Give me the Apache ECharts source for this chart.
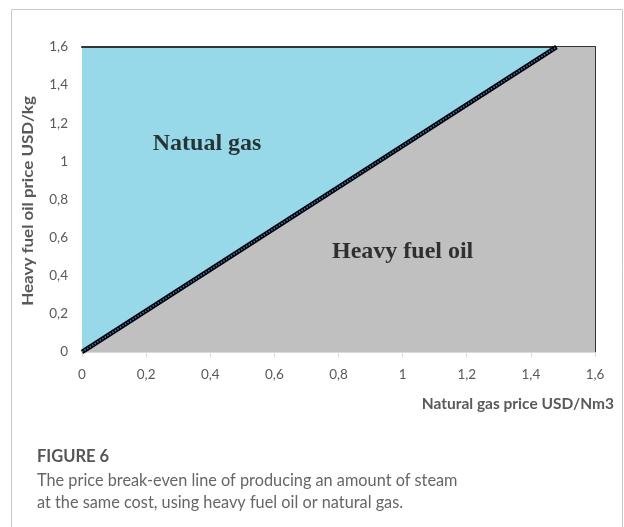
<!DOCTYPE html>
<html>
<head>
<meta charset="utf-8">
<script src="https://cdn.jsdelivr.net/npm/echarts@6/dist/echarts.min.js"></script>
<style>
html,body{margin:0;padding:0;background:#fff;}
#chart{width:624px;height:527px;}
</style>
</head>
<body>
<div id="chart"></div>
<script>
// Data
const gasPrice = [0, 1.48];          // natural gas price USD/Nm3
const oilPrice = [0, 1.6];           // heavy fuel oil price USD/kg (break-even)
const regionX = [0, 1.48, 1.6];      // gray region boundary (heavy fuel oil cheaper)
const regionY = [0, 1.6, 1.6];
const xTicks = ['0','0,2','0,4','0,6','0,8','1','1,2','1,4','1,6'];
const yTicks = ['0','0,2','0,4','0,6','0,8','1','1,2','1,4','1,6'];
const regionLabels = [
  {name: 'Natual gas', x: 0.39, y: 1.09},
  {name: 'Heavy fuel oil', x: 1.0, y: 0.525}
];
const xTitle = 'Natural gas price USD/Nm3';
const yTitle = 'Heavy fuel oil price USD/kg';
const figTitle = 'FIGURE 6';
const captionLines = [
  'The price break-even line of producing an amount of steam',
  'at the same cost, using heavy fuel oil or natural gas.'
];

const chart = echarts.init(document.getElementById('chart'), null, {renderer: 'canvas'});
const tickFmt = arr => v => arr[Math.round(v / 0.2)] ?? '';

const option = {
  animation: false,
  backgroundColor: '#fff',
  grid: {
    left: 82, right: 29, top: 47, bottom: 175,
    show: true, backgroundColor: '#97d9e8', borderWidth: 0
  },
  xAxis: [{
    type: 'value', min: 0, max: 1.6, interval: 0.2,
    axisLine: {show: true, lineStyle: {color: '#d9d9d9', width: 1}},
    axisTick: {show: true, length: 5, lineStyle: {color: '#d9d9d9'}},
    splitLine: {show: false},
    axisLabel: {formatter: tickFmt(xTicks), color: '#595959', fontFamily: 'Lato', fontSize: 13.5, margin: 16}
  }, {
    type: 'value', min: 0, max: 1.6, position: 'top',
    axisLine: {show: true, onZero: false, lineStyle: {color: '#333', width: 2}},
    axisTick: {show: false}, axisLabel: {show: false}, splitLine: {show: false}
  }],
  yAxis: [{
    type: 'value', min: 0, max: 1.6, interval: 0.2,
    axisLine: {show: false}, axisTick: {show: false}, splitLine: {show: false},
    axisLabel: {formatter: tickFmt(yTicks), color: '#595959', fontFamily: 'Lato', fontSize: 13.5, margin: 14}
  }, {
    type: 'value', min: 0, max: 1.6, position: 'right',
    axisLine: {show: true, onZero: false, lineStyle: {color: '#333', width: 2}},
    axisTick: {show: false}, axisLabel: {show: false}, splitLine: {show: false}
  }],
  series: [
    {
      type: 'line', silent: true, symbol: 'none',
      data: regionX.map((x, i) => [x, regionY[i]]),
      lineStyle: {width: 0, opacity: 0},
      areaStyle: {color: '#c0c0c0', opacity: 1, origin: 'start'},
      z: 2
    },
    {
      type: 'line', silent: true, symbol: 'none',
      data: gasPrice.map((x, i) => [x, oilPrice[i]]),
      lineStyle: {color: '#000', width: 4.5},
      z: 3
    },
    {
      type: 'line', silent: true, symbol: 'none',
      data: gasPrice.map((x, i) => [x, oilPrice[i]]),
      lineStyle: {color: '#3a6fb5', width: 1.8, type: [1.5, 1.5]},
      z: 4
    },
    {
      type: 'scatter', silent: true, symbolSize: 0,
      data: regionLabels.map(d => ({value: [d.x, d.y], name: d.name})),
      label: {
        show: true, position: 'inside', formatter: p => p.name,
        fontFamily: '"Liberation Serif", "Times New Roman", serif',
        fontWeight: 'bold', fontSize: 24, color: '#0a0a0a'
      },
      z: 5
    }
  ],
  graphic: [
    {type: 'rect', shape: {x: 11.5, y: 9.5, width: 611, height: 530}, style: {fill: 'none', stroke: '#c8c8c8', lineWidth: 1}, silent: true, z: -1},
    {type: 'text', x: 614, y: 404, style: {text: xTitle, textAlign: 'right', textVerticalAlign: 'middle', fill: '#595959', font: 'bold 15.5px Lato'}},
    {type: 'text', x: 28, y: 201, rotation: Math.PI / 2, scaleX: 1.17, style: {text: yTitle, textAlign: 'center', textVerticalAlign: 'middle', fill: '#595959', font: 'bold 14.5px Lato'}},
    {type: 'text', x: 37, y: 457, style: {text: figTitle, textVerticalAlign: 'middle', fill: '#555', font: 'bold 16.5px Lato'}},
    {type: 'text', x: 37, y: 481, style: {text: captionLines[0], textVerticalAlign: 'middle', fill: '#666', font: '16.3px Lato'}},
    {type: 'text', x: 37, y: 503, style: {text: captionLines[1], textVerticalAlign: 'middle', fill: '#666', font: '16.3px Lato'}}
  ]
};
chart.setOption(option);
</script>
</body>
</html>
